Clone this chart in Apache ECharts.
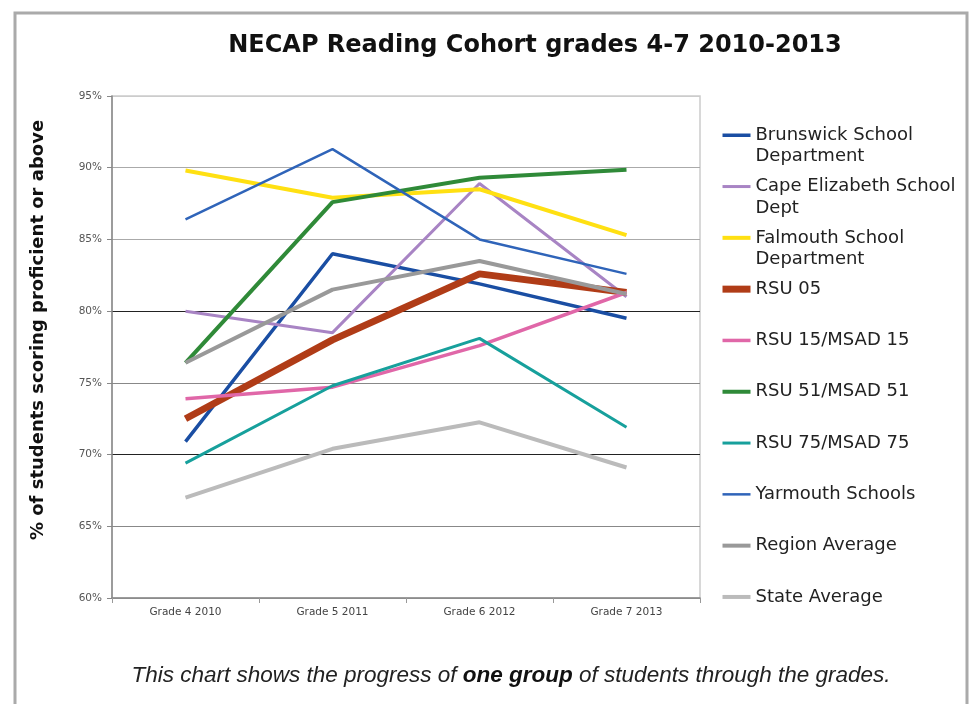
<!DOCTYPE html>
<html style="height: 100%">
<head>
    <meta charset="UTF-8">
    <title>NECAP Reading Cohort grades 4-7 2010-2013</title>
    <script src="https://cdnjs.cloudflare.com/ajax/libs/echarts/6.0.0/echarts.min.js"></script>
</head>
<body style="height: 100%; margin: 0; background: #fff">
    <div id="main" style="width: 975px; height: 704px"></div>
    <script type="text/javascript">
        var myChart = echarts.init(document.getElementById('main'));

        // data (% proficient or above)
        const grades = ['Grade 4 2010', 'Grade 5 2011', 'Grade 6 2012', 'Grade 7 2013'];
        const brunswick = [70.9, 84.0, 81.9, 79.5];
        const capeElizabeth = [80.0, 78.5, 88.9, 81.0];
        const falmouth = [89.8, 87.9, 88.5, 85.3];
        const rsu05 = [72.5, 78.0, 82.6, 81.3];
        const rsu15 = [73.9, 74.7, 77.6, 81.3];
        const rsu51 = [76.4, 87.6, 89.3, 89.85];
        const rsu75 = [69.4, 74.8, 78.1, 71.9];
        const yarmouth = [86.4, 91.3, 85.0, 82.6];
        const regionAvg = [76.4, 81.5, 83.5, 81.2];
        const stateAvg = [67.0, 70.4, 72.25, 69.1];

        // legend text, broken over lines as in the picture
        const legendText = {
            'Brunswick School Department': 'Brunswick School\nDepartment',
            'Cape Elizabeth School Dept': 'Cape Elizabeth School\nDept',
            'Falmouth School Department': 'Falmouth School\nDepartment'
        };

        function line(name, data, color, width) {
            return {
                name: name,
                type: 'line',
                data: data,
                symbol: 'none',
                smooth: false,
                lineStyle: {color: color, width: width},
                itemStyle: {color: color}
            };
        }

        myChart.setOption({
            backgroundColor: '#fff',
            animation: false,
            title: [
                {
                    text: 'NECAP Reading Cohort grades 4-7 2010-2013',
                    left: 530,
                    top: 29,
                    textAlign: 'center',
                    textStyle: {
                        fontFamily: 'DejaVu Sans',
                        fontWeight: 'bold',
                        fontSize: 24,
                        color: '#111'
                    }
                },
                {
                    text: '{i|This chart shows the progress of }{b|one group}{i| of students through the grades.}',
                    left: 506,
                    top: 659,
                    textAlign: 'center',
                    textStyle: {
                        fontWeight: 'normal',
                        rich: {
                            i: {fontFamily: 'Liberation Sans', fontStyle: 'italic', fontWeight: 'normal', fontSize: 22.5, color: '#222'},
                            b: {fontFamily: 'Liberation Sans', fontStyle: 'italic', fontWeight: 'bold', fontSize: 22.5, color: '#111'}
                        }
                    }
                }
            ],
            graphic: [
                {
                    type: 'rect',
                    shape: {x: 15, y: 13, width: 952, height: 700},
                    style: {fill: 'none', stroke: '#aaa', lineWidth: 3},
                    silent: true
                }
            ],
            legend: {
                orient: 'vertical',
                left: 714,
                top: 98,
                itemWidth: 28,
                itemHeight: 14,
                itemGap: -13.2,
                // a blank first line keeps the icon level with the first line of text
                formatter: function (name) {
                    return '\n' + (legendText[name] || (name + '\n '));
                },
                itemStyle: {opacity: 0},
                lineStyle: {width: 'inherit'},
                textStyle: {
                    fontFamily: 'DejaVu Sans',
                    fontSize: 18,
                    lineHeight: 21.5,
                    color: '#222'
                }
            },
            grid: {
                left: 112,
                right: 275,
                top: 96,
                bottom: 106,
                show: true,
                borderColor: '#ccc',
                borderWidth: 1.5
            },
            xAxis: {
                type: 'category',
                data: grades,
                boundaryGap: true,
                axisLine: {lineStyle: {color: '#888', width: 1.5}},
                axisTick: {show: true, length: 5, lineStyle: {color: '#999'}},
                axisLabel: {
                    fontFamily: 'DejaVu Sans',
                    fontSize: 10.5,
                    color: '#444',
                    margin: 9
                }
            },
            yAxis: {
                type: 'value',
                min: 60,
                max: 95,
                interval: 5,
                name: '% of students scoring proficient or above',
                nameLocation: 'middle',
                nameRotate: 90,
                nameGap: 65,
                nameTextStyle: {
                    fontFamily: 'DejaVu Sans',
                    fontWeight: 'bold',
                    fontSize: 18,
                    color: '#111',
                    padding: [0, 0, 0, 34]
                },
                axisLine: {show: true, lineStyle: {color: '#888', width: 1.5}},
                axisTick: {show: true, length: 5, lineStyle: {color: '#888'}},
                axisLabel: {
                    formatter: '{value}%',
                    fontFamily: 'DejaVu Sans',
                    fontSize: 10.5,
                    color: '#555',
                    margin: 10
                },
                splitLine: {
                    show: true,
                    lineStyle: {
                        color: ['#999', '#888', '#222', '#888', '#222', '#aaa', '#aaa', '#ccc'],
                        width: 1.2
                    }
                }
            },
            series: [
                line('Brunswick School Department', brunswick, '#1a4ea3', 3.5),
                line('Cape Elizabeth School Dept', capeElizabeth, '#a884c4', 3),
                line('Falmouth School Department', falmouth, '#ffe012', 4),
                line('RSU 05', rsu05, '#b03c17', 7),
                line('RSU 15/MSAD 15', rsu15, '#e067a8', 3.5),
                line('RSU 51/MSAD 51', rsu51, '#2f8a38', 4),
                line('RSU 75/MSAD 75', rsu75, '#17a09c', 3),
                line('Yarmouth Schools', yarmouth, '#2f64b9', 2.5),
                line('Region Average', regionAvg, '#999999', 4),
                line('State Average', stateAvg, '#bbbbbb', 4)
            ]
        });
    </script>
</body>
</html>
